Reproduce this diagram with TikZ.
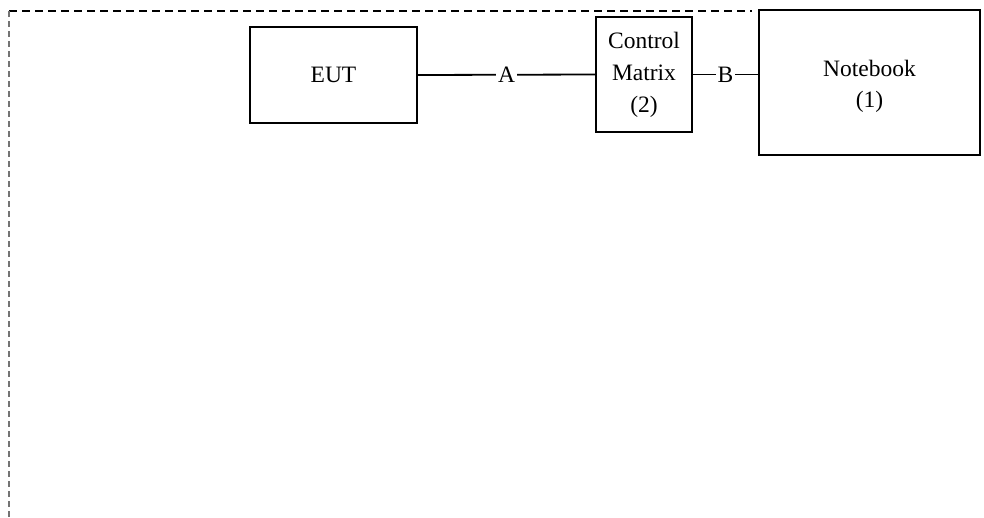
\documentclass[tikz,border=0pt]{standalone}
\usepackage{fontspec}
\setmainfont{Liberation Serif}
\begin{document}
\begin{tikzpicture}[x=1pt,y=-1pt,
  box/.style={draw=black,line width=1.8pt,inner sep=0pt,align=center,font=\fontsize{23.5}{32}\selectfont},
  wire/.style={line width=1.8pt},
  lab/.style={fill=white,inner sep=2pt,font=\fontsize{23.5}{26}\selectfont}]
\useasboundingbox (0,0) rectangle (984,517);
\draw[dash pattern=on 8pt off 5pt,line width=1.2pt] (9,11) -- (752,11);
\draw[dash pattern=on 6pt off 4pt,line width=1.5pt,black!55] (9,11) -- (9,517);
\node[box,minimum width=167pt,minimum height=96pt] (eut) at (333.5,75) {EUT};
\node[box,minimum width=96pt,minimum height=115pt] (cm) at (644,74.5) {Control\\Matrix\\(2)};
\node[box,minimum width=221pt,minimum height=145pt] (nb) at (869.5,82.5) {};
\node[font=\fontsize{23.5}{31}\selectfont,align=center] (nbt) at (869.5,86) {Notebook\\(1)};
\draw[wire] (eut.east) -- node[lab]{A} (cm.west);
\draw[wire] (cm.east) -- node[lab]{B} (cm.east -| nb.west);
\end{tikzpicture}
\end{document}
